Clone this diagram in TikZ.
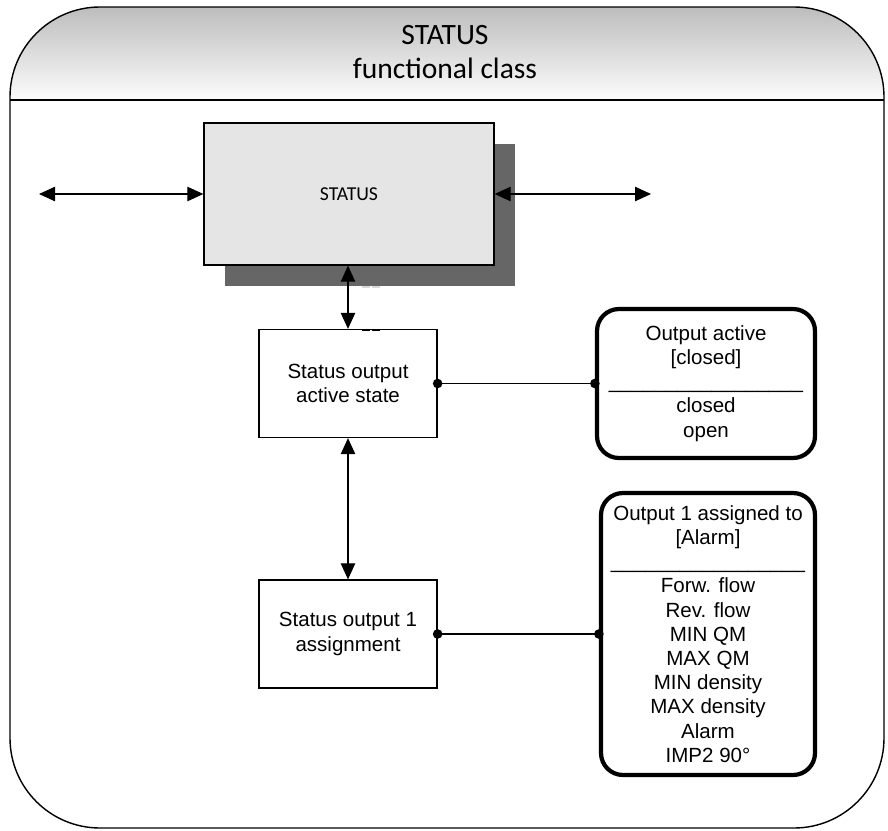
\documentclass[tikz,border=0pt]{standalone}
\usepackage{fontspec}
\setmainfont{Liberation Sans}
\newfontfamily\calibrifont{Carlito}
\usepackage{xcolor}
\usepackage{tikz}
\usetikzlibrary{arrows.meta,shadows}

\newcommand{\sepline}{\_\_\_\_\_\_\_\_\_\_\_\_\_\_\_\_\_}

\tikzset{
  blockbox/.style={draw, line width=0.9pt, minimum width=4.45cm, minimum height=2.7cm,
    align=center, font=\fontsize{14.6}{17.2}\selectfont},
  optbox/.style={draw, line width=3pt, rounded corners=0.55cm, align=center, inner sep=0pt,
    font=\fontsize{14.6}{17.2}\selectfont},
  biarrow/.style={{Triangle[length=0.4cm,width=0.36cm]}-{Triangle[length=0.4cm,width=0.36cm]}, line width=0.8pt},
  joint/.style={fill=black},
}

\begin{document}
\begin{tikzpicture}
  \useasboundingbox (0,0) rectangle (22.2,-20.75);
  % frame with shaded header
  \begin{scope}
    \clip[rounded corners=2.25cm] (0.25,-0.175) rectangle (22.1,-20.7);
    \shade[top color=black!26, bottom color=black!1] (0.25,-0.175) rectangle (22.1,-2.5);
  \end{scope}
  \draw[line width=1pt, rounded corners=2.25cm] (0.25,-0.175) rectangle (22.1,-20.7);
  \draw[line width=1pt] (0.25,-2.5) -- (22.1,-2.5);
  \node[font=\calibrifont\fontsize{21}{24.5}\selectfont, align=center] (title) at (11.125,-1.3)
    {STATUS\\functional class};

  % main block
  \node[draw, line width=0.9pt, fill=black!10, minimum width=7.25cm, minimum height=3.55cm,
    font=\calibrifont\fontsize{14}{16}\selectfont,
    drop shadow={shadow xshift=0.53cm, shadow yshift=-0.53cm, fill=black!60, opacity=1}]
    (status) at (8.725,-4.85) {STATUS};
  \coordinate (inleft) at (0.975,-4.85);
  \coordinate (outright) at (16.275,-4.85);
  \draw[biarrow] (inleft) -- (status.west);
  \draw[biarrow] (status.east) -- (outright);

  % parameters
  \node[blockbox] (astate) at (8.7,-9.5875) {Status output\\active state};
  \node[blockbox] (assign) at (8.7,-15.85) {Status output 1\\assignment};
  \node[optbox, minimum width=5.45cm, minimum height=3.725cm] (activeopts) at (17.65,-9.5875)
    {Output active\\{}[closed]\\\sepline\\closed\\open};
  \node[optbox, minimum width=5.35cm, minimum height=7.05cm] (assignopts) at (17.7,-15.85)
    {Output 1 assigned to\\{}[Alarm]\\\sepline\\Forw. flow\\Rev. flow\\MIN QM\\MAX QM\\MIN density\\MAX density\\Alarm\\IMP2 90°};

  \draw[biarrow] (status.south -| astate.north) -- (astate.north);
  \draw[biarrow] (astate.south) -- (assign.north);
  \draw[line width=1.2pt, dash pattern=on 0.2cm off 0.05cm] (9.05,-8.25) -- (9.5,-8.25);
  \draw[black!15, line width=1.2pt, dash pattern=on 0.2cm off 0.05cm] (9.05,-7.18) -- (9.5,-7.18);

  \draw[line width=0.8pt] (astate.east) -- (activeopts.west);
  \fill[joint] (astate.east) circle (0.12);
  \fill[joint] (activeopts.west) circle (0.12);
  \draw[line width=0.8pt] (assign.east) -- (assignopts.west);
  \fill[joint] (assign.east) circle (0.12);
  \fill[joint] (assignopts.west) circle (0.12);
\end{tikzpicture}
\end{document}
